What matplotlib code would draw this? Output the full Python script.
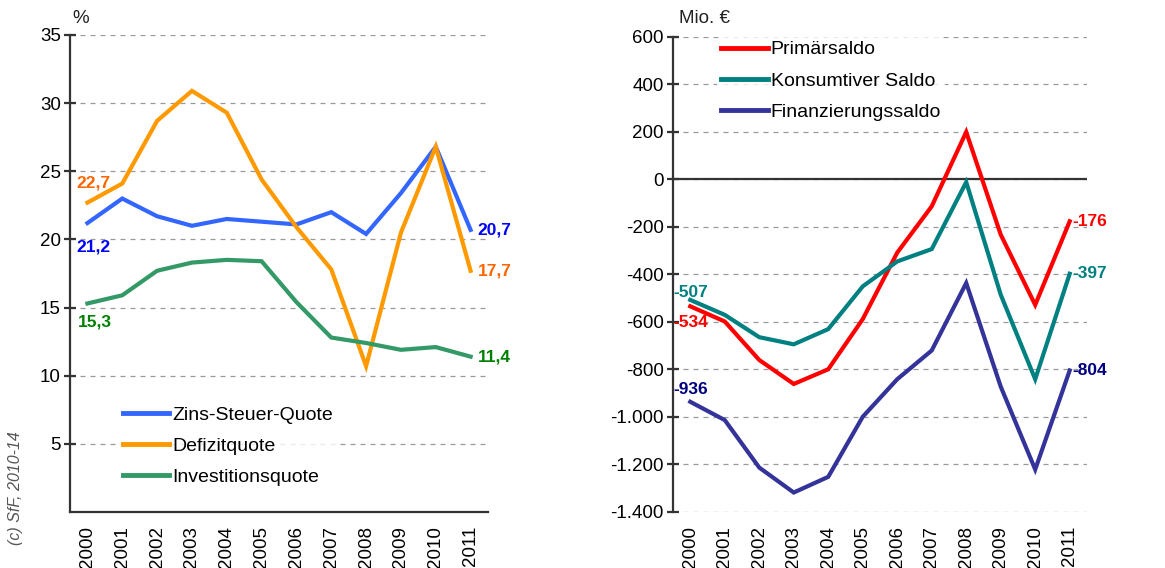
import matplotlib
matplotlib.use("Agg")
import matplotlib.pyplot as plt

plt.rcParams["font.family"] = ["Liberation Sans", "DejaVu Sans"]

years = ["2000", "2001", "2002", "2003", "2004", "2005",
         "2006", "2007", "2008", "2009", "2010", "2011"]

# left chart (%)
zins_steuer = [21.2, 23.0, 21.7, 21.0, 21.5, 21.3, 21.1, 22.0, 20.4, 23.4, 26.8, 20.7]
defizit = [22.7, 24.1, 28.7, 30.9, 29.3, 24.4, 20.9, 17.8, 10.7, 20.5, 26.8, 17.7]
investition = [15.3, 15.9, 17.7, 18.3, 18.5, 18.4, 15.4, 12.8, 12.4, 11.9, 12.1, 11.4]

# right chart (Mio. EUR)
primaer = [-534, -598, -760, -861, -799, -588, -308, -113, 200, -232, -528, -176]
konsumtiv = [-507, -570, -664, -694, -630, -450, -345, -293, -11, -485, -841, -397]
finanz = [-936, -1013, -1213, -1318, -1252, -999, -841, -720, -436, -872, -1221, -804]

left_series = [
    ("Zins-Steuer-Quote", zins_steuer, "#3366FF", "#0000FF"),
    ("Defizitquote", defizit, "#FF9900", "#FF6600"),
    ("Investitionsquote", investition, "#339966", "#008000"),
]
right_series = [
    ("Primärsaldo", primaer, "#FF0000", "#FF0000"),
    ("Konsumtiver Saldo", konsumtiv, "#008080", "#008080"),
    ("Finanzierungssaldo", finanz, "#333399", "#000080"),
]

fig = plt.figure(figsize=(11.65, 5.68), dpi=100)
ax1 = fig.add_axes([0.0601, 0.0986, 0.3588, 0.8398])
ax2 = fig.add_axes([0.5777, 0.0986, 0.3553, 0.8363])

x = list(range(len(years)))
axis_col = "#333333"


def style_axis(ax):
    for s in ["top", "right"]:
        ax.spines[s].set_visible(False)
    ax.spines["left"].set_color(axis_col)
    ax.spines["left"].set_linewidth(1.6)
    ax.spines["bottom"].set_color(axis_col)
    ax.spines["bottom"].set_linewidth(1.6)
    ax.tick_params(axis="y", direction="inout", length=9, width=1.6,
                   color=axis_col, labelsize=13.5, pad=2)
    ax.tick_params(axis="x", length=0, labelsize=13.5, labelrotation=90, pad=10)
    ax.yaxis.grid(True, linestyle=(0, (4, 4)), color="#999999", linewidth=0.9)
    ax.set_axisbelow(True)
    ax.set_xlim(-0.5, len(years) - 0.5)
    ax.set_xticks(x)
    ax.set_xticklabels(years)


def make_legend(ax, anchor):
    leg = ax.legend(loc="upper left", bbox_to_anchor=anchor, frameon=True,
                    fontsize=14, handlelength=2.4, handletextpad=0.15,
                    labelspacing=0.7, borderpad=0.2, borderaxespad=0)
    leg.get_frame().set_facecolor("white")
    leg.get_frame().set_edgecolor("none")
    for h in leg.get_lines():
        h.set_linewidth(3.5)
    return leg


# LEFT CHART
style_axis(ax1)
ax1.set_ylim(0, 35)
ax1.set_yticks([5, 10, 15, 20, 25, 30, 35])
for name, vals, col, lcol in left_series:
    ax1.plot(x, vals, color=col, linewidth=3, label=name, solid_joinstyle="miter")

fmt = lambda v: f"{v:.1f}".replace(".", ",")
# start labels
ax1.annotate(fmt(defizit[0]), (x[0], defizit[0]), xytext=(4, 14), textcoords="offset points",
             ha="center", va="center", color="#FF6600", fontsize=12.5, fontweight="bold")
ax1.annotate(fmt(zins_steuer[0]), (x[0], zins_steuer[0]), xytext=(4, -17), textcoords="offset points",
             ha="center", va="center", color="#0000FF", fontsize=12.5, fontweight="bold")
ax1.annotate(fmt(investition[0]), (x[0], investition[0]), xytext=(5, -13), textcoords="offset points",
             ha="center", va="center", color="#008000", fontsize=12.5, fontweight="bold")
# end labels
for name, vals, col, lcol in left_series:
    ax1.annotate(fmt(vals[-1]), (x[-1], vals[-1]), xytext=(5, 0), textcoords="offset points",
                 ha="left", va="center", color=lcol, fontsize=12.5, fontweight="bold")

make_legend(ax1, (0.117, 0.23))

fig.text(0.069, 0.968, "%", fontsize=13.5, ha="center", va="center", color="#222222")

# RIGHT CHART
style_axis(ax2)
ax2.spines["bottom"].set_visible(False)
ax2.set_ylim(-1400, 600)
ax2.set_yticks(list(range(-1400, 601, 200)))
ax2.set_yticklabels([f"{v:,}".replace(",", ".") for v in range(-1400, 601, 200)])
ax2.axhline(0, color=axis_col, linewidth=1.6, zorder=1.5)
for name, vals, col, lcol in right_series:
    ax2.plot(x, vals, color=col, linewidth=3, label=name, solid_joinstyle="miter")

ax2.annotate(f"{konsumtiv[0]}", (x[0], konsumtiv[0]), xytext=(0, 5), textcoords="offset points",
             ha="center", va="center", color="#008080", fontsize=12.5, fontweight="bold")
ax2.annotate(f"{primaer[0]}", (x[0], primaer[0]), xytext=(0, -12), textcoords="offset points",
             ha="center", va="center", color="#FF0000", fontsize=12.5, fontweight="bold")
ax2.annotate(f"{finanz[0]}", (x[0], finanz[0]), xytext=(0, 9), textcoords="offset points",
             ha="center", va="center", color="#000080", fontsize=12.5, fontweight="bold")
for name, vals, col, lcol in right_series:
    ax2.annotate(f"{vals[-1]}", (x[-1], vals[-1]), xytext=(2, 0), textcoords="offset points",
                 ha="left", va="center", color=lcol, fontsize=12.5, fontweight="bold")

make_legend(ax2, (0.107, 1.0))

fig.text(0.605, 0.968, "Mio. €", fontsize=13.5, ha="center", va="center", color="#222222")

fig.text(0.013, 0.14, "(c) SfF, 2010-14", rotation=90, fontsize=11.5, style="italic",
         color="#555555", ha="center", va="center")

fig.savefig("out.png", dpi=100)
